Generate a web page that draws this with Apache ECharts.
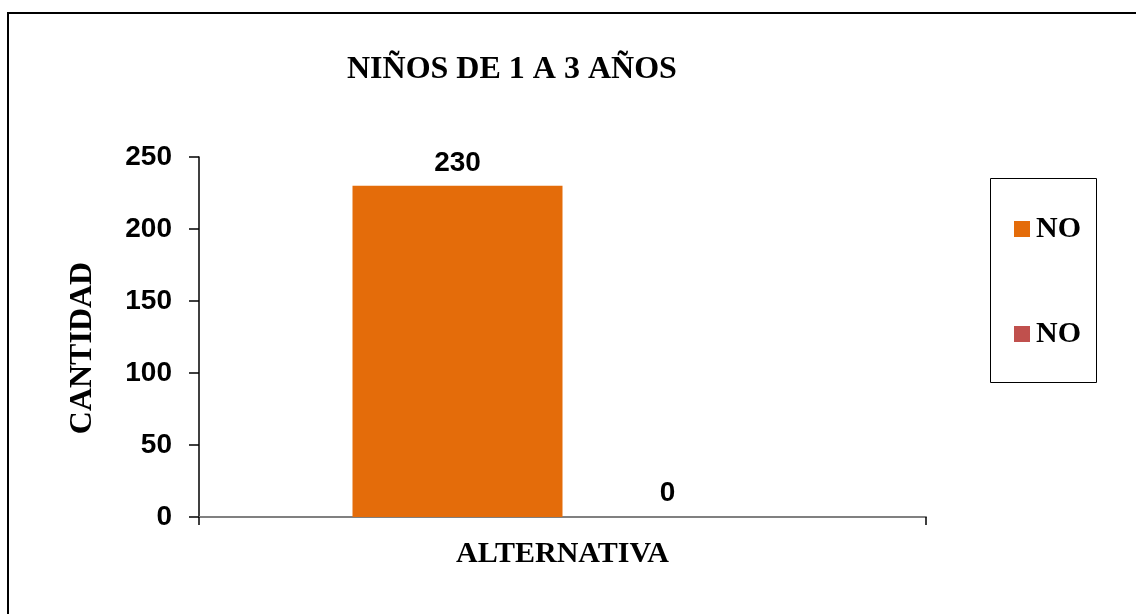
<!DOCTYPE html>
<html>
<head>
<meta charset="utf-8">
<script src="https://cdn.jsdelivr.net/npm/echarts@6/dist/echarts.min.js"></script>
<style>html,body{margin:0;padding:0;background:#fff;}#c{width:1136px;height:614px;}</style>
</head>
<body>
<div id="c"></div>
<script>
var categories = ['ALTERNATIVA'];
var seriesNames = ['NO', 'NO'];
var seriesA = [230];
var seriesB = [0];
var yTicks = [0, 50, 100, 150, 200, 250];

var chart = echarts.init(document.getElementById('c'));
var serif = '"Liberation Serif", "Times New Roman", serif';
var sans = '"Liberation Sans", Arial, sans-serif';
var ids = ['s0', 's1'];
chart.setOption({
  animation: false,
  backgroundColor: '#fff',
  title: {
    text: 'NIÑOS DE 1 A 3 AÑOS',
    left: 342, top: 49,
    textStyle: { fontFamily: serif, fontWeight: 'bold', fontSize: 32, color: '#000' }
  },
  graphic: [
    { type: 'rect', shape: { x: 8, y: 13, width: 1140, height: 620 }, style: { fill: 'none', stroke: '#000', lineWidth: 2 } },
    { type: 'rect', shape: { x: 990.5, y: 178.5, width: 106, height: 204 }, style: { fill: 'none', stroke: '#000', lineWidth: 1 } }
  ],
  legend: {
    orient: 'vertical',
    left: 1009, top: 209,
    itemGap: 75,
    itemWidth: 16, itemHeight: 16,
    icon: 'rect',
    data: ids,
    formatter: function (n) { return seriesNames[ids.indexOf(n)]; },
    textStyle: { fontFamily: serif, fontWeight: 'bold', fontSize: 30, color: '#000', padding: [0, 0, 0, 1] }
  },
  grid: { left: 199, right: 210, top: 157, bottom: 97 },
  xAxis: {
    type: 'category',
    data: categories,
    name: categories[0],
    nameLocation: 'middle',
    nameGap: 22,
    nameTextStyle: { fontFamily: serif, fontWeight: 'bold', fontSize: 30, color: '#000' },
    axisLine: { lineStyle: { color: '#808080', width: 2 } },
    axisTick: { show: true, length: 8, lineStyle: { color: '#000', width: 1.5 } },
    axisLabel: { show: false }
  },
  yAxis: {
    type: 'value',
    min: yTicks[0], max: yTicks[yTicks.length - 1], interval: 50,
    name: 'CANTIDAD',
    nameLocation: 'middle',
    nameGap: 100,
    nameTextStyle: { fontFamily: serif, fontWeight: 'bold', fontSize: 32, color: '#000', padding: [0, 22, 0, 0] },
    axisLine: { show: true, lineStyle: { color: '#000', width: 1.5 } },
    axisTick: { show: true, length: 10, lineStyle: { color: '#000', width: 1.5 } },
    splitLine: { show: false },
    axisLabel: { margin: 27, fontFamily: sans, fontWeight: 'bold', fontSize: 28, color: '#000' }
  },
  series: [
    {
      id: ids[0], name: ids[0], type: 'bar', data: seriesA,
      barWidth: 210, barGap: '0%',
      itemStyle: { color: '#E46C0A' },
      label: { show: true, position: 'top', distance: 9, fontFamily: sans, fontWeight: 'bold', fontSize: 28, color: '#000' }
    },
    {
      id: ids[1], name: ids[1], type: 'bar', data: seriesB,
      barWidth: 210, barGap: '0%',
      itemStyle: { color: '#C0504D' },
      label: { show: true, position: 'top', distance: 10, fontFamily: sans, fontWeight: 'bold', fontSize: 28, color: '#000' }
    }
  ]
});
</script>
</body>
</html>
